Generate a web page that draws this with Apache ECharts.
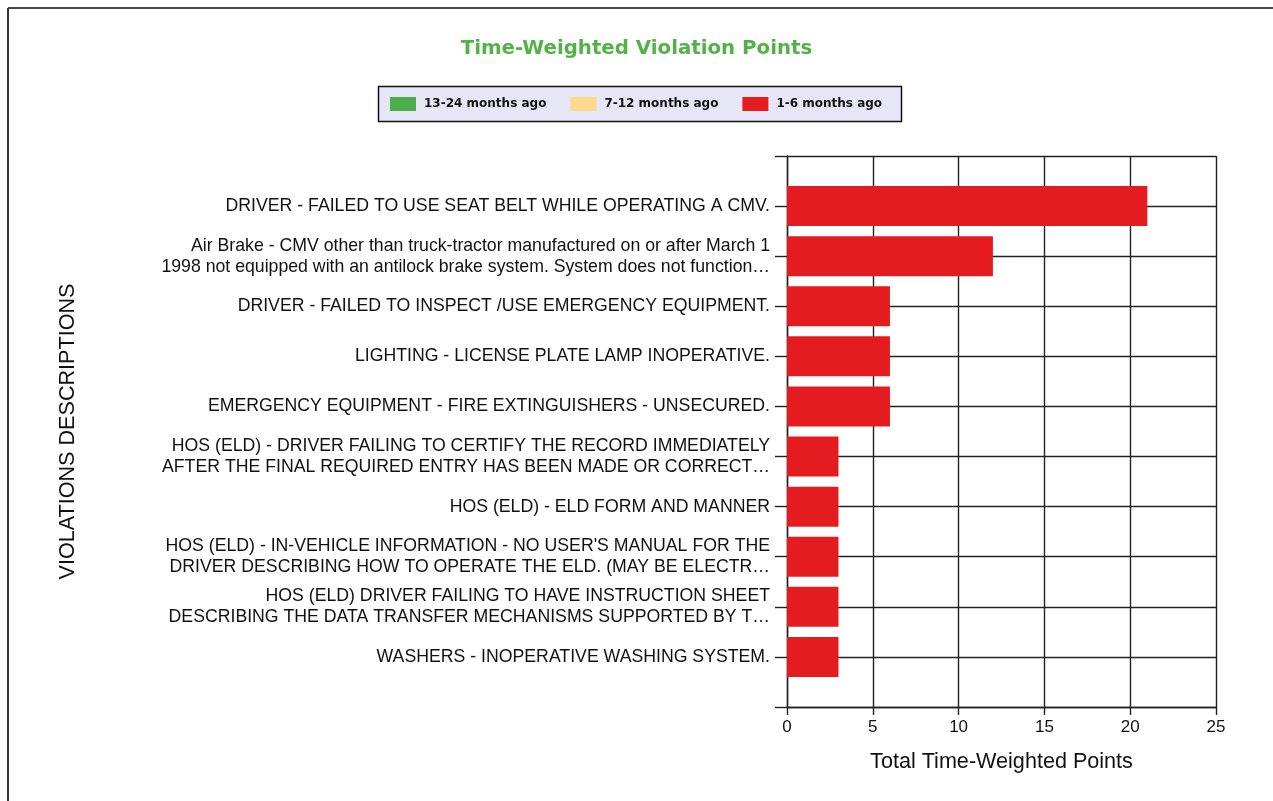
<!DOCTYPE html>
<html>
<head>
<meta charset="utf-8">
<script src="https://cdn.jsdelivr.net/npm/echarts@6/dist/echarts.min.js"></script>
<style>
html,body{margin:0;padding:0;background:#fff;}
#chart{width:1273px;height:801px;}
</style>
</head>
<body>
<div id="chart"></div>
<script>
const categories = [
  "DRIVER - FAILED TO USE SEAT BELT WHILE OPERATING A CMV.",
  "Air Brake - CMV other than truck-tractor manufactured on or after March 1\n1998 not equipped with an antilock brake system. System does not function…",
  "DRIVER - FAILED TO INSPECT /USE EMERGENCY EQUIPMENT.",
  "LIGHTING - LICENSE PLATE LAMP INOPERATIVE.",
  "EMERGENCY EQUIPMENT - FIRE EXTINGUISHERS - UNSECURED.",
  "HOS (ELD) - DRIVER FAILING TO CERTIFY THE RECORD IMMEDIATELY\nAFTER THE FINAL REQUIRED ENTRY HAS BEEN MADE OR CORRECT…",
  "HOS (ELD) - ELD FORM AND MANNER",
  "HOS (ELD) - IN-VEHICLE INFORMATION - NO USER'S MANUAL FOR THE\nDRIVER DESCRIBING HOW TO OPERATE THE ELD. (MAY BE ELECTR…",
  "HOS (ELD) DRIVER FAILING TO HAVE INSTRUCTION SHEET\nDESCRIBING THE DATA TRANSFER MECHANISMS SUPPORTED BY T…",
  "WASHERS - INOPERATIVE WASHING SYSTEM."
];
const seriesNames = ["13-24 months ago", "7-12 months ago", "1-6 months ago"];
const months13to24 = [0, 0, 0, 0, 0, 0, 0, 0, 0, 0];
const months7to12  = [0, 0, 0, 0, 0, 0, 0, 0, 0, 0];
const months1to6   = [21, 12, 6, 6, 6, 3, 3, 3, 3, 3];
const xTicks = { min: 0, max: 25, interval: 5 };

const colors = ["#4CAE4C", "#FFD98E", "#E41C1F"];
const pad = v => ['-'].concat(v, ['-']);
const axisCats = [''].concat(categories, ['']);

const chart = echarts.init(document.getElementById('chart'));
const gridLine = { color: '#222', width: 1.4 };

chart.setOption({
  animation: false,
  backgroundColor: '#fff',
  title: {
    text: 'Time-Weighted Violation Points',
    left: 'center',
    top: 34,
    textStyle: { fontFamily: 'DejaVu Sans', fontWeight: 'bold', fontSize: 19.8, color: '#52B248' }
  },
  graphic: [
    { type: 'line', shape: { x1: 8, y1: 8, x2: 1273, y2: 8 }, style: { stroke: '#4a4a4a', lineWidth: 2 } },
    { type: 'line', shape: { x1: 8, y1: 8, x2: 8, y2: 801 }, style: { stroke: '#333', lineWidth: 2 } },
    { type: 'rect', z: -1, shape: { x: 378.5, y: 86.5, width: 523, height: 35 }, style: { fill: '#E6E6F7', stroke: '#111', lineWidth: 1.5 } }
  ],
  legend: {
    data: seriesNames,
    left: 390,
    top: 97,
    padding: 0,
    itemWidth: 26,
    itemHeight: 14,
    itemGap: 24,
    icon: 'rect',
    textStyle: { fontFamily: 'DejaVu Sans', fontWeight: 'bold', fontSize: 12, color: '#111', padding: [0, 0, 0, 3] }
  },
  grid: { left: 787, right: 57, top: 156, bottom: 94, containLabel: false },
  xAxis: {
    type: 'value',
    min: xTicks.min, max: xTicks.max, interval: xTicks.interval,
    name: 'Total Time-Weighted Points',
    nameLocation: 'middle',
    nameGap: 44,
    nameTextStyle: { fontFamily: 'Liberation Sans', fontSize: 21.6, color: '#111' },
    axisLine: { show: true, lineStyle: gridLine },
    axisTick: { show: true, length: 8, lineStyle: gridLine },
    axisLabel: { margin: 12, fontFamily: 'Liberation Sans', fontSize: 17, color: '#111' },
    splitLine: { show: true, lineStyle: gridLine }
  },
  yAxis: {
    type: 'category',
    inverse: true,
    boundaryGap: false,
    data: axisCats,
    name: 'VIOLATIONS DESCRIPTIONS',
    nameLocation: 'middle',
    nameGap: 708,
    nameTextStyle: { fontFamily: 'Liberation Sans', fontSize: 21.6, color: '#111' },
    axisLine: { show: true, lineStyle: gridLine },
    axisTick: { show: true, length: 12, lineStyle: gridLine },
    axisLabel: { margin: 17, fontFamily: 'Liberation Sans', fontSize: 17.7, lineHeight: 21, color: '#111', interval: 0 },
    splitLine: { show: true, interval: 0, lineStyle: gridLine }
  },
  series: [
    { name: seriesNames[0], type: 'bar', stack: 'total', barWidth: 40, itemStyle: { color: colors[0] }, data: pad(months13to24) },
    { name: seriesNames[1], type: 'bar', stack: 'total', barWidth: 40, itemStyle: { color: colors[1] }, data: pad(months7to12) },
    { name: seriesNames[2], type: 'bar', stack: 'total', barWidth: 40, itemStyle: { color: colors[2] }, data: pad(months1to6) }
  ]
});
</script>
</body>
</html>
